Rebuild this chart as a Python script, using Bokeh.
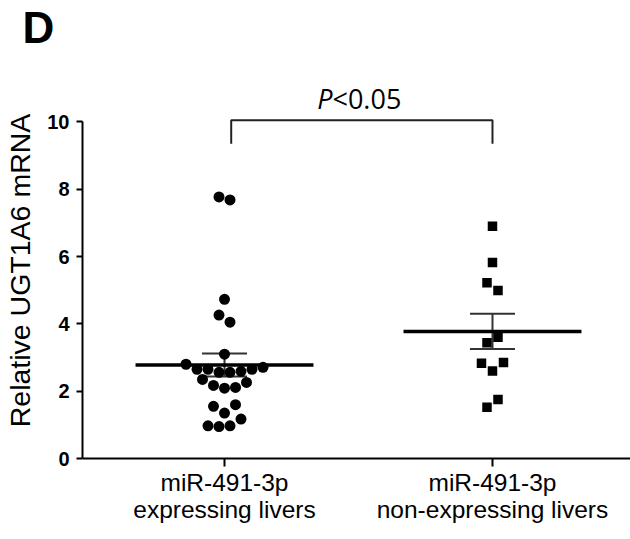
import numpy as np
from bokeh.plotting import figure
from bokeh.models import Range1d, FixedTicker, Label
from bokeh.embed import file_html
from bokeh.resources import INLINE

# ---------------- data ----------------
group_labels = ["miR-491-3p\nexpressing livers", "miR-491-3p\nnon-expressing livers"]
group_pos = [1, 2]
# values listed top-to-bottom, left-to-right as they appear in the swarm
expressing = [7.77, 7.68, 4.73, 4.26, 4.05, 3.10,
              2.80, 2.65, 2.65, 2.56, 2.56, 2.59, 2.65, 2.71,
              2.35, 2.17, 2.09, 2.11, 2.26,
              1.55, 1.35, 1.60,
              0.97, 0.95, 0.97, 1.17]
non_expressing = [6.90, 5.82, 5.22, 4.99, 3.44, 3.60,
                  2.83, 2.60, 2.85, 1.52, 1.75]
y_ticks = [0, 2, 4, 6, 8, 10]
y_label = "Relative UGT1A6 mRNA"
sig_p = "P"
sig_rest = "<0.05"
panel_letter = "D"

# ---------------- layout constants ----------------
W, H = 630, 539
BL, BR, BT, BB = 82, 0, 82, 81
X0, X1 = 0.4701, 2.515
Y0, Y1 = 0.0, 11.17
px_per_x = (W - BL - BR) / (X1 - X0)
ROW_TOL = 0.27          # values closer than this share a swarm row
STEP = 11.0 / px_per_x  # horizontal spacing of points in a row
MEAN_HALF = 0.332
CAP_HALF = 0.084


def swarm(vals, center):
    vals = np.asarray(vals, float)
    order = np.argsort(-vals, kind="stable")
    rows = []
    for i in order:
        if rows and vals[rows[-1][0]] - vals[i] <= ROW_TOL:
            rows[-1].append(i)
        else:
            rows.append([i])
    xs = np.zeros(len(vals))
    for r in rows:
        r = sorted(r)
        n = len(r)
        for k, i in enumerate(r):
            xs[i] = center + (k - (n - 1) / 2) * STEP
    return xs


p = figure(width=W, height=H, output_backend="svg", toolbar_location=None,
           x_range=Range1d(X0, X1), y_range=Range1d(Y0, Y1),
           min_border_left=BL, min_border_right=BR,
           min_border_top=BT, min_border_bottom=BB)
p.outline_line_color = None
p.grid.visible = False
p.background_fill_color = "white"
p.border_fill_color = "white"

# panel letter as title (an extra blank line lifts it toward the top edge)
p.title.text = panel_letter + "\n "
p.title.text_font = "Liberation Sans"
p.title.text_font_style = "bold"
p.title.text_font_size = "44px"
p.title.text_color = "black"
p.title.align = "left"
p.title.offset = -60
p.title.vertical_align = "top"
p.title.standoff = 0
p.title.text_line_height = 0.6

# y axis
ya = p.yaxis[0]
ya.ticker = FixedTicker(ticks=y_ticks)
ya.bounds = (0, 10)
ya.axis_line_width = 2
ya.axis_line_color = "black"
ya.major_tick_line_width = 2
ya.major_tick_line_color = "black"
ya.major_tick_out = 6
ya.major_tick_in = 0
ya.minor_tick_line_color = None
ya.major_label_text_font = "Liberation Sans"
ya.major_label_text_font_size = "20px"
ya.major_label_text_font_style = "bold"
ya.major_label_text_color = "black"
ya.major_label_standoff = 7
ya.axis_label = y_label
ya.axis_label_text_font = "Liberation Sans"
ya.axis_label_text_font_size = "28.5px"
ya.axis_label_text_font_style = "normal"
ya.axis_label_text_color = "black"
ya.axis_label_standoff = 8

# x axis
xa = p.xaxis[0]
xa.ticker = FixedTicker(ticks=group_pos)
xa.major_label_overrides = {gp: lab for gp, lab in zip(group_pos, group_labels)}
xa.axis_line_width = 2
xa.axis_line_color = "black"
xa.major_tick_line_width = 2
xa.major_tick_line_color = "black"
xa.major_tick_out = 8
xa.major_tick_in = 0
xa.minor_tick_line_color = None
xa.major_label_text_font = "Liberation Sans"
xa.major_label_text_font_size = "24.5px"
xa.major_label_text_color = "black"
xa.major_label_text_line_height = 1.0
xa.major_label_standoff = 2

# mean +/- SEM
for vals, c in zip([expressing, non_expressing], group_pos):
    v = np.asarray(vals, float)
    m = v.mean()
    sem = v.std(ddof=1) / np.sqrt(len(v))
    p.segment(x0=[c, c - CAP_HALF, c - CAP_HALF], x1=[c, c + CAP_HALF, c + CAP_HALF],
              y0=[m - sem, m + sem, m - sem], y1=[m + sem, m + sem, m - sem],
              line_color="#333333", line_width=2)
    p.segment(x0=[c - MEAN_HALF], x1=[c + MEAN_HALF], y0=[m], y1=[m],
              line_color="black", line_width=3.5)

# points
p.scatter(swarm(expressing, group_pos[0]), expressing, marker="circle",
          size=11, fill_color="black", line_color="black", line_width=0)
p.scatter(swarm(non_expressing, group_pos[1]), non_expressing, marker="square",
          size=9.5, fill_color="black", line_color="black", line_width=0)

# significance bracket
p.line([group_pos[0] + 0.025, group_pos[0] + 0.025, group_pos[1], group_pos[1]],
       [9.35, 10.05, 10.05, 9.35], line_color="#222222", line_width=2)
mid = (group_pos[0] + group_pos[1]) / 2
p.add_layout(Label(x=mid, y=10.70, x_offset=-26, text=sig_p,
                   text_font="Open Sans", text_font_style="italic",
                   text_font_size="27px", text_align="right",
                   text_baseline="alphabetic", text_color="black"))
p.add_layout(Label(x=mid, y=10.70, x_offset=-26, text=sig_rest,
                   text_font="Open Sans", text_font_size="27px",
                   text_align="left", text_baseline="alphabetic",
                   text_color="black"))

open("out.html", "w").write(file_html(p, INLINE))
